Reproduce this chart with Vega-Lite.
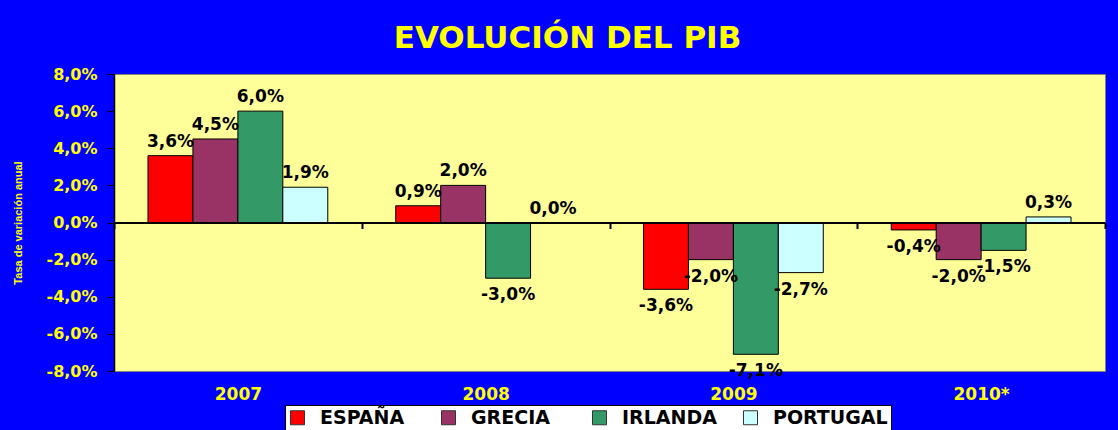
{
  "$schema": "https://vega.github.io/schema/vega-lite/v6.json",
  "width": 991,
  "height": 297,
  "autosize": {"type": "none"},
  "padding": {"left": 114, "top": 74, "right": 13, "bottom": 59},
  "background": "#0000FF",
  "config": {
    "locale": {"number": {"decimal": ",", "thousands": ".", "grouping": [3], "currency": ["", " €"], "minus": "-"}},
    "view": {"fill": "#FFFF99", "stroke": "#808080", "strokeWidth": 1},
    "font": "DejaVu Sans"
  },
  "title": {
    "text": "EVOLUCIÓN DEL PIB",
    "color": "#FFFF00",
    "font": "DejaVu Sans",
    "fontSize": 31,
    "fontWeight": "bold",
    "anchor": "middle",
    "dx": -42,
    "offset": 11
  },
  "data": {
    "values": [
      {"year": "2007", "country": "ESPAÑA", "value": 0.036},
      {"year": "2007", "country": "GRECIA", "value": 0.045},
      {"year": "2007", "country": "IRLANDA", "value": 0.060},
      {"year": "2007", "country": "PORTUGAL", "value": 0.019},
      {"year": "2008", "country": "ESPAÑA", "value": 0.009},
      {"year": "2008", "country": "GRECIA", "value": 0.020},
      {"year": "2008", "country": "IRLANDA", "value": -0.030},
      {"year": "2008", "country": "PORTUGAL", "value": 0.000},
      {"year": "2009", "country": "ESPAÑA", "value": -0.036},
      {"year": "2009", "country": "GRECIA", "value": -0.020},
      {"year": "2009", "country": "IRLANDA", "value": -0.071},
      {"year": "2009", "country": "PORTUGAL", "value": -0.027},
      {"year": "2010*", "country": "ESPAÑA", "value": -0.004},
      {"year": "2010*", "country": "GRECIA", "value": -0.020},
      {"year": "2010*", "country": "IRLANDA", "value": -0.015},
      {"year": "2010*", "country": "PORTUGAL", "value": 0.003}
    ]
  },
  "encoding": {
    "x": {
      "field": "year",
      "type": "nominal",
      "sort": null,
      "scale": {"paddingInner": 0, "paddingOuter": 0},
      "axis": {
        "title": null,
        "offset": -148.5,
        "zindex": 1,
        "domainColor": "black",
        "domainWidth": 2,
        "tickColor": "black",
        "tickWidth": 2,
        "tickSize": 6,
        "tickBand": "extent",
        "labelAngle": 0,
        "labelColor": "#FFFF00",
        "labelFont": "DejaVu Sans",
        "labelFontSize": 17,
        "labelFontWeight": "bold",
        "labelPadding": 158
      }
    },
    "xOffset": {
      "field": "country",
      "type": "nominal",
      "sort": ["ESPAÑA", "GRECIA", "IRLANDA", "PORTUGAL"],
      "scale": {"paddingInner": 0, "paddingOuter": 0.756}
    },
    "y": {
      "field": "value",
      "type": "quantitative",
      "scale": {"domain": [-0.08, 0.08], "nice": false, "zero": false},
      "axis": {
        "values": [-0.08, -0.06, -0.04, -0.02, 0, 0.02, 0.04, 0.06, 0.08],
        "format": ".1%",
        "grid": false,
        "domainColor": "black",
        "domainWidth": 1.5,
        "tickColor": "black",
        "tickSize": 7,
        "labelColor": "#FFFF00",
        "labelFont": "DejaVu Sans",
        "labelFontSize": 16,
        "labelFontWeight": "bold",
        "labelPadding": 10,
        "title": "Tasa de variación anual",
        "titleColor": "#FFFF00",
        "titleFont": "Liberation Sans",
        "titleFontSize": 11,
        "titleFontWeight": "bold",
        "titlePadding": 22
      }
    }
  },
  "layer": [
    {
      "mark": {"type": "bar", "stroke": "black", "strokeWidth": 1},
      "encoding": {
        "color": {
          "field": "country",
          "type": "nominal",
          "scale": {
            "domain": ["ESPAÑA", "GRECIA", "IRLANDA", "PORTUGAL"],
            "range": ["#FF0000", "#993366", "#339966", "#CCFFFF"]
          },
          "legend": {
            "title": null,
            "orient": "none",
            "legendX": 171,
            "legendY": 331,
            "direction": "horizontal",
            "columns": 4,
            "gridAlign": "all",
            "fillColor": "white",
            "strokeColor": "black",
            "padding": 3,
            "symbolType": "square",
            "symbolSize": 196,
            "symbolStrokeColor": "#333333",
            "symbolStrokeWidth": 1,
            "symbolOpacity": 1,
            "labelFont": "DejaVu Sans",
            "labelFontSize": 19,
            "labelFontWeight": "bold",
            "labelColor": "black",
            "labelOffset": 13,
            "columnPadding": 4
          }
        }
      }
    },
    {
      "transform": [{"filter": "datum.value >= 0"}],
      "mark": {"type": "text", "baseline": "alphabetic", "dy": -9, "font": "DejaVu Sans", "fontSize": 17, "fontWeight": "bold", "color": "black"},
      "encoding": {"text": {"field": "value", "type": "quantitative", "format": ".1%"}}
    },
    {
      "transform": [{"filter": "datum.value < 0"}],
      "mark": {"type": "text", "baseline": "alphabetic", "dy": 22, "font": "DejaVu Sans", "fontSize": 17, "fontWeight": "bold", "color": "black"},
      "encoding": {"text": {"field": "value", "type": "quantitative", "format": ".1%"}}
    }
  ]
}
